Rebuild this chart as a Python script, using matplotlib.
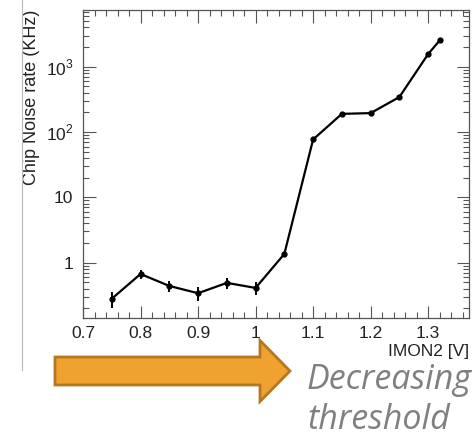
import numpy as np
import matplotlib
matplotlib.use("Agg")
import matplotlib.pyplot as plt
from matplotlib.ticker import MultipleLocator, LogLocator, NullFormatter, FixedLocator, FixedFormatter
from matplotlib.patches import FancyArrow
from matplotlib.lines import Line2D

# ---------- data ----------
imon2 = [0.75, 0.80, 0.85, 0.90, 0.95, 1.00, 1.05, 1.10, 1.15, 1.20, 1.25, 1.30, 1.32]
noise = [0.28, 0.67, 0.44, 0.34, 0.49, 0.41, 1.36, 77, 190, 195, 344, 1565, 2530]
noise_err = [0.08, 0.10, 0.09, 0.08, 0.09, 0.09, 0.12, 2, 4, 4, 6, 15, 20]

ytick_vals = [1, 10, 100, 1000]
ytick_labels = ["1", "10", r"$10^{2}$", r"$10^{3}$"]

plt.rcParams['font.family'] = ['Liberation Sans', 'DejaVu Sans']
plt.rcParams['mathtext.fontset'] = 'custom'
plt.rcParams['mathtext.rm'] = 'Liberation Sans'

fig = plt.figure(figsize=(4.77, 4.37), dpi=100)
ax = fig.add_axes([83 / 477, 1 - 318 / 437, (469 - 83) / 477, (318 - 10) / 437])

ax.errorbar(imon2, noise, yerr=noise_err, fmt="o-", color="black", ms=3.5, lw=1.6,
            elinewidth=1.4, capsize=0)
ax.set_yscale("log")
ax.set_xlim(0.7, 1.371)
ax.set_ylim(0.142, 7400)

ax.xaxis.set_major_locator(MultipleLocator(0.1))
ax.xaxis.set_minor_locator(MultipleLocator(0.02))
ax.xaxis.set_major_formatter(plt.FuncFormatter(lambda v, p: f"{v:g}"))
ax.yaxis.set_major_locator(FixedLocator(ytick_vals))
ax.yaxis.set_major_formatter(FixedFormatter(ytick_labels))
ax.yaxis.set_minor_locator(LogLocator(base=10, subs=np.arange(2, 10)))
ax.yaxis.set_minor_formatter(NullFormatter())

ax.tick_params(which="both", direction="in", top=True, right=True, labelsize=12.5,
               color="#555555", width=0.8, labelcolor="#222222")
ax.tick_params(which="major", length=9)
ax.tick_params(which="minor", length=4.5)
ax.tick_params(axis="x", pad=6)
ax.tick_params(axis="y", pad=7)
for s in ax.spines.values():
    s.set_color("#555555")
    s.set_linewidth(0.9)

ax.set_ylabel("Chip Noise rate (KHz)", fontsize=13, loc="top", color="#222222")
ax.yaxis.set_label_coords(-0.112, 1.0)
ax.set_xlabel("IMON2 [V]", fontsize=12.5, loc="right", color="#222222")
ax.xaxis.set_label_coords(1.0, -0.083)

# slide decoration: thin vertical rule on the left
fig.add_artist(Line2D([22 / 477, 22 / 477], [1, 1 - 370 / 437], color="#bbbbbb", lw=0.8))

# orange arrow
W, H = 477, 437
arrow = FancyArrow(55 / W, 1 - 371 / H, (290 - 55) / W, 0,
                   width=28 / H, head_width=61 / H, head_length=30 / W,
                   length_includes_head=True, transform=fig.transFigure,
                   facecolor="#EFA22F", edgecolor="#B5771F", lw=2)
fig.add_artist(arrow)

fig.text(307 / W, 1 - 389 / H, "Decreasing", fontsize=24.5, style="italic",
         color="#808080", family=["Open Sans", "DejaVu Sans"])
fig.text(307 / W, 1 - 429 / H, "threshold", fontsize=24.5, style="italic",
         color="#808080", family=["Open Sans", "DejaVu Sans"])

fig.savefig("out.png", dpi=100)
